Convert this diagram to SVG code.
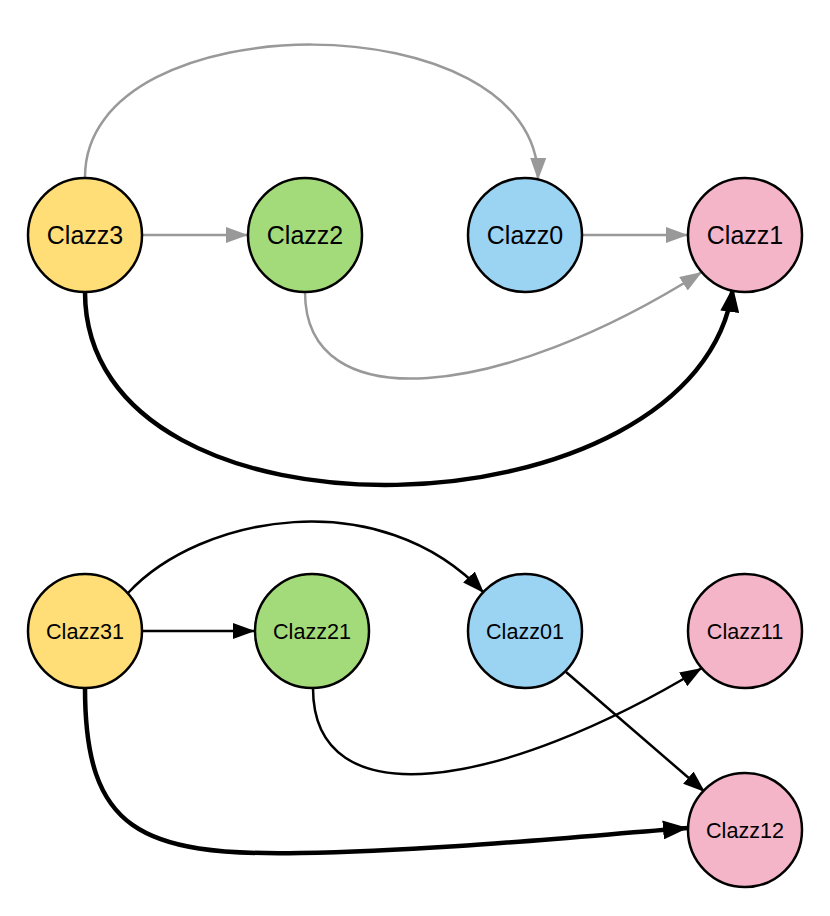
<svg xmlns="http://www.w3.org/2000/svg" width="830" height="916" viewBox="0 0 830 916">
<style>
.n{stroke:#000;stroke-width:2.5}
.t{font-family:"Liberation Sans",Arial,sans-serif;text-anchor:middle;dominant-baseline:central;fill:#000}
.top{font-size:25px}
.bot{font-size:21.6px}
.y{fill:#FFDE77}.g{fill:#A4DB7A}.b{fill:#9BD3F3}.p{fill:#F4B5C8}
.eg{fill:none;stroke:#999;stroke-width:2.5}
.ek{fill:none;stroke:#000;stroke-width:2.5}
.ekt{fill:none;stroke:#000;stroke-width:4.5}
</style>
<defs>
<marker id="ag" markerUnits="userSpaceOnUse" markerWidth="22" markerHeight="16" refX="22" refY="8" orient="auto"><path d="M0,0 L22,8 L0,16 z" fill="#999"/></marker>
<marker id="ak" markerUnits="userSpaceOnUse" markerWidth="22" markerHeight="16" refX="22" refY="8" orient="auto"><path d="M0,0 L22,8 L0,16 z" fill="#000"/></marker>
<marker id="akt" markerUnits="userSpaceOnUse" markerWidth="25" markerHeight="19" refX="25" refY="9.5" orient="auto"><path d="M0,0 L25,9.5 L0,19 z" fill="#000"/></marker>
</defs>
<g id="connectors">
<path class="eg" d="M142,235 L248,235" marker-end="url(#ag)"/>
<path class="eg" d="M582,235 L688,235" marker-end="url(#ag)"/>
<path class="eg" d="M85,177 C85,0 540,0 538,180" marker-end="url(#ag)"/>
<path class="eg" d="M305,292 C305,420 500,400 702,272" marker-end="url(#ag)"/>
<path class="ekt" d="M85,292 C85,560 700,540 733,287" marker-end="url(#akt)"/>
<path class="ek" d="M142,631 L255,631" marker-end="url(#ak)"/>
<path class="ek" d="M128,593 C200,515 380,482 484,593" marker-end="url(#ak)"/>
<path class="ek" d="M313,688 C313,820 500,790 702,668" marker-end="url(#ak)"/>
<path class="ek" d="M566,672 L705,792" marker-end="url(#ak)"/>
<path class="ekt" d="M85,688 C85,830 140,856 300,853 C430,851 560,838 688,828" marker-end="url(#akt)"/>
</g>
<g id="Clazz3"><circle class="n y" cx="85" cy="235" r="57"/><text class="t top" x="85" y="235">Clazz3</text></g>
<g id="Clazz2"><circle class="n g" cx="305" cy="235" r="57"/><text class="t top" x="305" y="235">Clazz2</text></g>
<g id="Clazz0"><circle class="n b" cx="525" cy="235" r="57"/><text class="t top" x="525" y="235">Clazz0</text></g>
<g id="Clazz1"><circle class="n p" cx="745" cy="235" r="57"/><text class="t top" x="745" y="235">Clazz1</text></g>
<g id="Clazz31"><circle class="n y" cx="85" cy="631" r="57"/><text class="t bot" x="85" y="631">Clazz31</text></g>
<g id="Clazz21"><circle class="n g" cx="312" cy="631" r="57"/><text class="t bot" x="312" y="631">Clazz21</text></g>
<g id="Clazz01"><circle class="n b" cx="525" cy="631" r="57"/><text class="t bot" x="525" y="631">Clazz01</text></g>
<g id="Clazz11"><circle class="n p" cx="745" cy="631" r="57"/><text class="t bot" x="745" y="631">Clazz11</text></g>
<g id="Clazz12"><circle class="n p" cx="745" cy="830" r="57"/><text class="t bot" x="745" y="830">Clazz12</text></g>
</svg>
